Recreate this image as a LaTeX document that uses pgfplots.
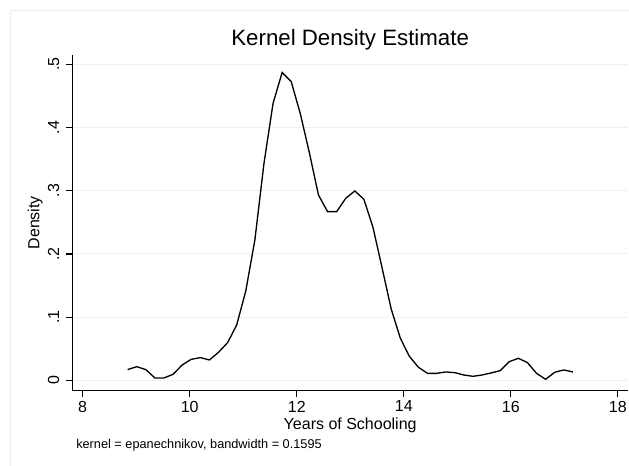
\documentclass[border=0pt]{standalone}
\usepackage{fontspec}
\setmainfont{Liberation Sans}
\usepackage{pgfplots}
\pgfplotsset{compat=1.18}
\usepackage{pgfplotstable}

\definecolor{gridcol}{RGB}{234,242,243}
\definecolor{framecol}{RGB}{232,238,240}

% Epanechnikov kernel density of years of schooling, 50 evaluation points
\pgfplotstableread{
x        dens
8.8405   0.0169
9.0103   0.0216
9.1801   0.0169
9.3498   0.0037
9.5196   0.0037
9.6894   0.0095
9.8592   0.0243
10.0289  0.0332
10.1987  0.0359
10.3685  0.0322
10.5383  0.0443
10.7081  0.0596
10.8778  0.0876
11.0476  0.1414
11.2174  0.2220
11.3872  0.3430
11.5569  0.4380
11.7267  0.4870
11.8965  0.4726
12.0663  0.4220
12.2360  0.3600
12.4058  0.2932
12.5756  0.2669
12.7454  0.2669
12.9152  0.2880
13.0849  0.2996
13.2547  0.2864
13.4245  0.2420
13.5943  0.1780
13.7640  0.1130
13.9338  0.0670
14.1036  0.0380
14.2734  0.0206
14.4431  0.0110
14.6129  0.0110
14.7827  0.0132
14.9525  0.0121
15.1223  0.0084
15.2920  0.0063
15.4618  0.0084
15.6316  0.0116
15.8014  0.0153
15.9711  0.0295
16.1409  0.0348
16.3107  0.0280
16.4805  0.0110
16.6502  0.0016
16.8200  0.0127
16.9898  0.0164
17.1596  0.0132
}\kdens

\begin{document}
\begin{tikzpicture}
% outer graph region frame
\draw[framecol, line width=0.75pt] (-46pt,-70pt) -- (-46pt,284.85pt) -- (430pt,284.85pt);
\begin{axis}[
  scale only axis,
  width=416.8pt, height=251.6pt,
  xmin=7.806, xmax=18.19,
  ymin=-0.01614, ymax=0.5147,
  axis x line*=bottom, axis y line*=left,
  axis line style={black, line width=0.9pt, -},
  xtick={8,10,12,14,16,18},
  xticklabels={8,10,12,14,16,18},
  ytick={0,0.1,0.2,0.3,0.4,0.5},
  yticklabels={0,.1,.2,.3,.4,.5},
  tick align=outside,
  major tick length=4.5pt,
  tick style={black, line width=0.9pt},
  minor tick num=0,
  xticklabel style={font=\fontsize{12}{14}\selectfont, anchor=north, inner sep=0pt},
  yticklabel style={font=\fontsize{12}{14}\selectfont, rotate=90, anchor=south, inner sep=0pt},
  xticklabel shift=3.15pt,
  yticklabel shift=5.1pt,
  ymajorgrids,
  major grid style={gridcol, line width=0.75pt},
  clip=false,
]
\addplot[black, line width=1pt, mark=none] table[x=x, y=dens] {\kdens};
\end{axis}
\node[anchor=base, font=\fontsize{16.7}{20}\selectfont] at (208.4pt,259.1pt) {Kernel Density Estimate};
\node[anchor=base, font=\fontsize{12}{14}\selectfont] at (208.4pt,-29.1pt) {Years of Schooling};
\node[anchor=base, rotate=90, font=\fontsize{12}{14}\selectfont] at (-24.6pt,125.8pt) {Density};
\node[anchor=base west, inner sep=0pt, font=\fontsize{9.55}{11}\selectfont] at (2.8pt,-43.35pt) {kernel = epanechnikov, bandwidth = 0.1595};
\pgfresetboundingbox
\path[use as bounding box] (-54.225pt,-55.875pt) rectangle (417.525pt,292.875pt);
\end{tikzpicture}
\end{document}
